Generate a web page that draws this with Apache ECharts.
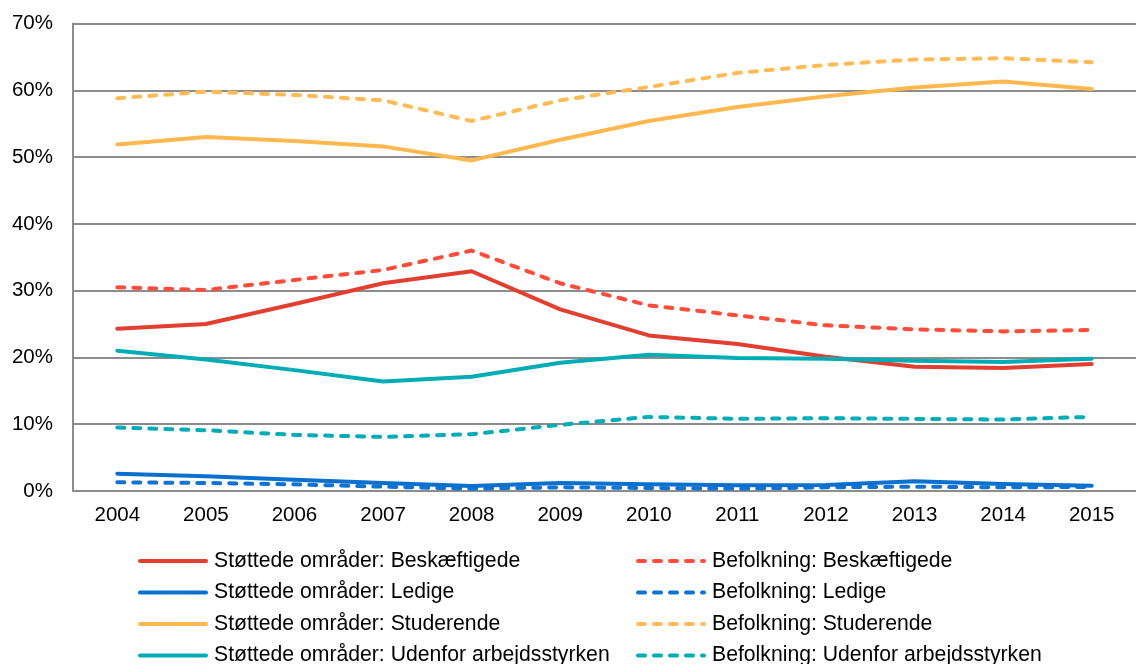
<!DOCTYPE html>
<html>
<head>
<meta charset="utf-8">
<script src="https://cdn.jsdelivr.net/npm/echarts@6/dist/echarts.min.js"></script>
<style>
    html, body { margin: 0; padding: 0; background: #fff; }
    #container { width: 1136px; height: 664px; }
</style>
</head>
<body>
<div id="container"></div>
<script>
var years = ['2004', '2005', '2006', '2007', '2008', '2009', '2010', '2011', '2012', '2013', '2014', '2015'];

// Støttede områder (solid)
var stBeskaeftigede = [24.3, 25.0, 28.0, 31.1, 32.9, 27.2, 23.3, 22.0, 20.1, 18.6, 18.4, 19.0];
var stLedige = [2.6, 2.2, 1.7, 1.2, 0.75, 1.2, 1.0, 0.85, 0.9, 1.45, 1.05, 0.8];
var stStuderende = [51.9, 53.0, 52.4, 51.6, 49.5, 52.6, 55.4, 57.5, 59.1, 60.4, 61.3, 60.2];
var stUdenfor = [21.0, 19.7, 18.1, 16.4, 17.1, 19.2, 20.4, 19.9, 19.8, 19.5, 19.3, 19.8];

// Befolkning (dashed)
var beBeskaeftigede = [30.5, 30.1, 31.6, 33.1, 36.0, 31.1, 27.8, 26.3, 24.8, 24.2, 23.9, 24.1];
var beLedige = [1.3, 1.2, 1.0, 0.65, 0.35, 0.55, 0.45, 0.35, 0.55, 0.65, 0.55, 0.6];
var beStuderende = [58.8, 59.8, 59.3, 58.5, 55.4, 58.5, 60.5, 62.6, 63.8, 64.6, 64.8, 64.2];
var beUdenfor = [9.5, 9.1, 8.4, 8.1, 8.5, 9.9, 11.1, 10.8, 10.9, 10.8, 10.7, 11.1];

var soliNames = ['Støttede områder: Beskæftigede', 'Støttede områder: Ledige',
    'Støttede områder: Studerende', 'Støttede områder: Udenfor arbejdsstyrken'];
var dashNames = ['Befolkning: Beskæftigede', 'Befolkning: Ledige',
    'Befolkning: Studerende', 'Befolkning: Udenfor arbejdsstyrken'];

var font = '"Liberation Sans", Arial, sans-serif';

function line(name, data, color, dashed) {
    return {
        name: name,
        type: 'line',
        data: data,
        symbol: 'none',
        smooth: false,
        lineStyle: {
            color: color,
            width: 4,
            type: dashed ? [7, 9] : 'solid',
            cap: 'round',
            join: 'round'
        },
        itemStyle: { color: color },
        z: dashed ? 2 : 3
    };
}

function legend(names, left) {
    return {
        orient: 'vertical',
        left: left,
        top: 550,
        height: 200,
        padding: 0,
        data: names,
        itemWidth: 66,
        itemHeight: 14,
        itemGap: 9.5,
        itemStyle: { opacity: 0 },
        lineStyle: { width: 4 },
        textStyle: {
            fontFamily: font,
            fontSize: 21.2,
            color: '#000',
            lineHeight: 22,
            padding: [0, 0, 0, 3]
        }
    };
}

var myChart = echarts.init(document.getElementById('container'));

var option = {
    backgroundColor: '#fff',
    animation: false,
    grid: {
        left: 73,
        top: 23.5,
        width: 1073,
        height: 467.5
    },
    legend: [legend(soliNames, 138), legend(dashNames, 636)],
    xAxis: {
        type: 'category',
        data: years,
        boundaryGap: true,
        axisLine: { lineStyle: { color: '#8c8c8c', width: 2 } },
        axisTick: { show: false },
        axisLabel: {
            margin: 14,
            fontFamily: font,
            fontSize: 20.5,
            color: '#000'
        }
    },
    yAxis: {
        type: 'value',
        min: 0,
        max: 70,
        interval: 10,
        axisLine: { show: true, lineStyle: { color: '#8c8c8c', width: 2 } },
        axisTick: { show: false },
        splitLine: { lineStyle: { color: '#8c8c8c', width: 2 } },
        axisLabel: {
            margin: 20,
            formatter: '{value}%',
            fontFamily: font,
            fontSize: 20.5,
            color: '#000'
        }
    },
    series: [
        line(dashNames[0], beBeskaeftigede, '#ff4d3b', true),
        line(dashNames[1], beLedige, '#0f73d2', true),
        line(dashNames[2], beStuderende, '#ffbb55', true),
        line(dashNames[3], beUdenfor, '#00adb7', true),
        line(soliNames[0], stBeskaeftigede, '#e23f30', false),
        line(soliNames[1], stLedige, '#0a70cf', false),
        line(soliNames[2], stStuderende, '#ffb84f', false),
        line(soliNames[3], stUdenfor, '#00adb6', false)
    ]
};
myChart.setOption(option);
</script>
</body>
</html>
